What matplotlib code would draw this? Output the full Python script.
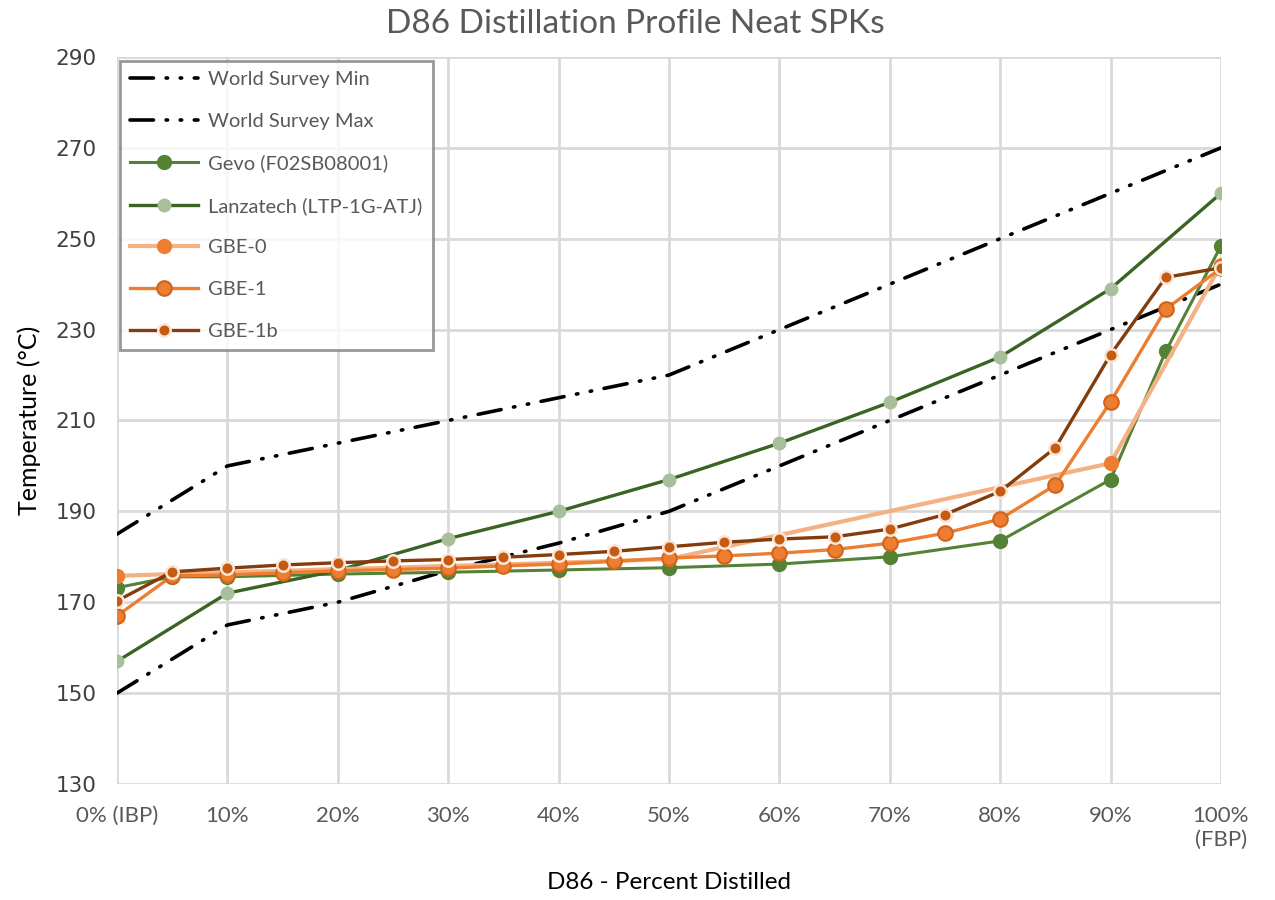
import matplotlib
matplotlib.use('Agg')
import matplotlib.pyplot as plt
import numpy as np

# distillation points (% recovered)
pct_full = [0, 5, 10, 15, 20, 25, 30, 35, 40, 45, 50, 55, 60, 65, 70, 75, 80, 85, 90, 95, 100]
pct_ten = [0, 10, 20, 30, 40, 50, 60, 70, 80, 90, 100]
pct_gevo = [0, 5, 10, 20, 30, 40, 50, 60, 70, 80, 90, 95, 100]
pct_gbe0 = [0, 5, 10, 15, 20, 25, 30, 35, 40, 45, 50, 90, 100]

survey_min = [150, 165, 170, 177, 183, 190, 200, 210, 220, 230, 240]
survey_max = [185, 200, 205, 210, 215, 220, 230, 240, 250, 260, 270]
lanzatech = [157, 172, 177, 184, 190, 197, 205, 214, 224, 239, 260]
gevo = [173.2, 175.6, 175.6, 176.2, 176.6, 177.1, 177.6, 178.4, 180.0, 183.5, 197.0, 225.2, 248.4]
gbe0 = [175.8, 176.2, 176.6, 176.9, 177.3, 177.6, 178.0, 178.3, 178.7, 179.1, 179.5, 200.6, 244.3]
gbe1 = [167.0, 175.8, 176.0, 176.5, 176.9, 177.2, 177.5, 178.0, 178.4, 179.0, 179.7,
        180.2, 180.8, 181.6, 183.0, 185.2, 188.3, 195.8, 214.1, 234.5, 243.5]
gbe1b = [170.3, 176.7, 177.5, 178.2, 178.7, 179.1, 179.4, 179.9, 180.5, 181.2, 182.2,
         183.2, 183.9, 184.4, 186.1, 189.3, 194.4, 204.0, 224.5, 241.5, 243.6]

x_labels = ['0% (IBP)', '10%', '20%', '30%', '40%', '50%', '60%', '70%', '80%', '90%', '100%\n(FBP)']

text_gray = '#595959'
grid_gray = '#d9d9d9'

fig = plt.figure(figsize=(12.75, 9), dpi=100)
ax = fig.add_axes([0.0918, 0.1289, 0.8658, 0.8078])

dash = (0, (6.5, 3.5, 0.4, 3.5, 0.4, 3.5))
ax.plot(pct_ten, survey_min, color='black', lw=2.6, linestyle=dash,
        dash_capstyle='round', label='World Survey Min')
ax.plot(pct_ten, survey_max, color='black', lw=2.6, linestyle=dash,
        dash_capstyle='round', label='World Survey Max')
ax.plot(pct_gevo, gevo, color='#548235', lw=2.2, marker='o', ms=10,
        mfc='#548235', mec='#548235', label='Gevo (F02SB08001)')
ax.plot(pct_ten, lanzatech, color='#3b6323', lw=2.4, marker='o', ms=9,
        mfc='#a9bf9c', mec='#a9bf9c', label='Lanzatech (LTP-1G-ATJ)')
ax.plot(pct_gbe0, gbe0, color='#f4b183', lw=3, marker='o', ms=10,
        mfc='#ed7d31', mec='#ed7d31', label='GBE-0')
ax.plot(pct_full, gbe1, color='#ed7d31', lw=2.4, marker='o', ms=10.5,
        mfc='#ed7d31', mec='#d2631a', mew=1.5, label='GBE-1')
ax.plot(pct_full, gbe1b, color='#843c0c', lw=2.4, marker='o', ms=9,
        mfc='#c55a11', mec='#fbe5d6', mew=1.8, label='GBE-1b')

ax.set_xlim(0, 100)
ax.set_ylim(130, 290)
ax.set_xticks(pct_ten)
ax.set_xticklabels(x_labels, family='Lato', fontsize=16, color=text_gray)
ax.set_yticks(np.arange(130, 291, 20))
for lbl in ax.get_yticklabels():
    lbl.set_fontsize(15.5)
    lbl.set_color('#404040')
    lbl.set_family('DejaVu Sans')
ax.tick_params(axis='both', length=0)
ax.tick_params(axis='x', pad=16)
ax.tick_params(axis='y', pad=15)

ax.grid(True, color=grid_gray, lw=2)
ax.set_axisbelow(True)
for s in ax.spines.values():
    s.set_visible(False)

fig.suptitle('D86 Distillation Profile Neat SPKs', family='Lato', fontsize=24,
             color=text_gray, x=0.498, y=0.99)
ax.set_xlabel('D86 - Percent Distilled', family='Lato', fontsize=17.5,
              color='black', labelpad=16)
ax.set_ylabel('Temperature (°C)', family='Lato', fontsize=18, color='black',
              labelpad=10)

leg = ax.legend(loc='upper left', bbox_to_anchor=(0.0015, 0.996), frameon=True,
                fancybox=False, edgecolor='#7f7f7f', handlelength=3.4,
                handletextpad=0.5, labelspacing=1.22, borderpad=0.5,
                borderaxespad=0.05, prop={'family': 'Lato', 'size': 14.5})
leg.get_frame().set_linewidth(2)
for t in leg.get_texts():
    t.set_color(text_gray)

plt.savefig('out.png', dpi=100)
